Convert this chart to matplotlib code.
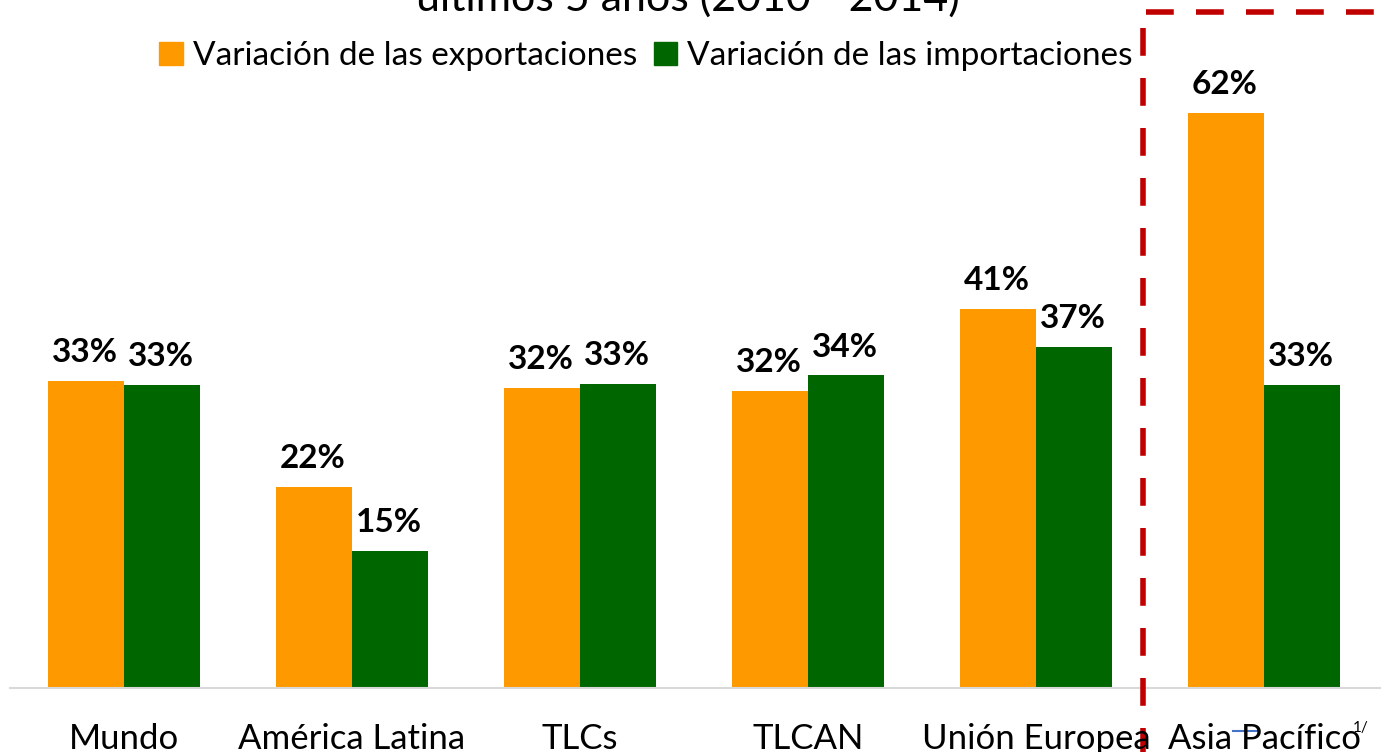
import matplotlib.pyplot as plt
from matplotlib.lines import Line2D
from matplotlib.patches import Patch
import numpy as np

categorias = ["Mundo", "América Latina", "TLCs", "TLCAN", "Unión Europea", "Asia Pacífico"]
exportaciones = [33.1, 21.7, 32.4, 32.0, 40.9, 62.0]
importaciones = [32.7, 14.8, 32.8, 33.7, 36.8, 32.7]
serie_nombres = ["Variación de las exportaciones", "Variación de las importaciones"]
titulo = "últimos 5 años (2010 - 2014)"

naranja = "#FF9900"
verde = "#006600"
rojo = "#C00000"

plt.rcParams['font.family'] = ['Lato', 'DejaVu Sans']

W, H = 1387, 752
fig = plt.figure(figsize=(W / 100, H / 100), dpi=100)
ax = fig.add_axes([0, 64 / H, 1, 1 - 64 / H])

x = np.arange(len(categorias))
w = 76 / 228
ax.bar(x - w / 2, exportaciones, width=w, color=naranja)
ax.bar(x + w / 2, importaciones, width=w, color=verde)

for i in range(len(categorias)):
    ax.annotate(f"{round(exportaciones[i])}%", (x[i] - w / 2, exportaciones[i]),
                xytext=(-1, 10), textcoords="offset points", ha="center", va="bottom",
                fontsize=24, fontweight="bold")
    ax.annotate(f"{round(importaciones[i])}%", (x[i] + w / 2, importaciones[i]),
                xytext=(-1, 10), textcoords="offset points", ha="center", va="bottom",
                fontsize=24, fontweight="bold")

ax.set_xlim(-124 / 228, (W - 124) / 228)
ax.set_ylim(0, 688 / 9.274)
ax.set_yticks([])
ax.set_xticks([])
for s in ["top", "right", "left"]:
    ax.spines[s].set_visible(False)
ax.spines["bottom"].set_color("#D9D9D9")
ax.spines["bottom"].set_linewidth(1.5)
ax.spines["bottom"].set_bounds((10 - 124) / 228, (1380 - 124) / 228)
ax.patch.set_alpha(0)

# category labels (clipped at bottom like the original)
for i, c in enumerate(categorias):
    fig.text((124 + 228 * i) / W, 1 - 739 / H, c, ha="center", va="center", fontsize=25)
fig.text(1361 / W, 1 - 728 / H, "1/", ha="center", va="center", fontsize=11)
fig.add_artist(Line2D([1233 / W, 1258 / W], [1 - 731 / H, 1 - 731 / H],
                      color="#4472C4", lw=1.5))

# title, cut off at the top
fig.text(688 / W, 1 - 11 / H, titulo, ha="center", va="baseline", fontsize=31)

# legend
handles = [Patch(color=naranja), Patch(color=verde)]
fig.legend(handles, serie_nombres, loc="center", bbox_to_anchor=(646 / W, 1 - 56 / H),
           ncol=2, frameon=False, fontsize=24, handlelength=0.7, handleheight=0.7,
           handletextpad=0.3, columnspacing=0.5)

# red dashed box around Asia Pacífico
fig.add_artist(Line2D([1143 / W, 1143 / W], [1 - 28 / H, 0], color=rojo, lw=4,
                      dashes=(5, 4)))
fig.add_artist(Line2D([1146 / W, 1], [1 - 12 / H, 1 - 12 / H], color=rojo, lw=4,
                      dashes=(5, 4)))

fig.savefig("out.png", dpi=100)
